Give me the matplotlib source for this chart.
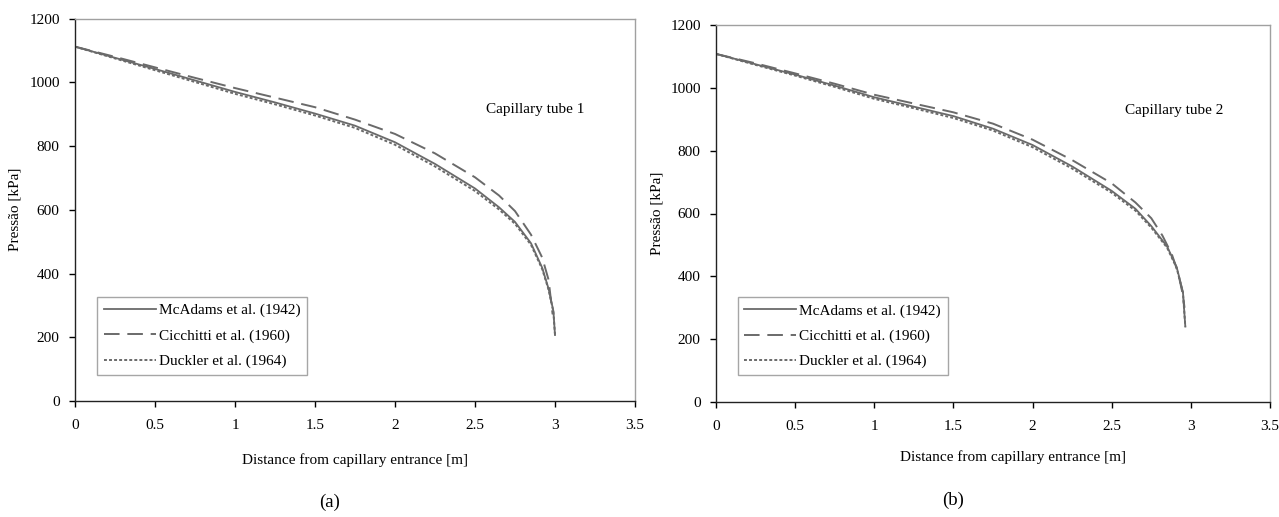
import matplotlib
matplotlib.use("Agg")
import matplotlib.pyplot as plt

plt.rcParams['font.family'] = ['Liberation Serif', 'DejaVu Serif']

# ---------------- data ----------------
series_labels = ["McAdams et al. (1942)", "Cicchitti et al. (1960)", "Duckler et al. (1964)"]
panel_titles = ["Capillary tube 1", "Capillary tube 2"]
panel_tags = ["(a)", "(b)"]
x_ticks = [0, 0.5, 1, 1.5, 2, 2.5, 3, 3.5]
x_tick_labels = ["0", "0.5", "1", "1.5", "2", "2.5", "3", "3.5"]
y_ticks = [0, 200, 400, 600, 800, 1000, 1200]

# Panel (a)
a_mcadams_x = [0, 0.25, 0.5, 0.75, 1.0, 1.25, 1.5, 1.75, 2.0, 2.25, 2.5, 2.65, 2.75, 2.85, 2.92, 2.96, 2.99, 3.0]
a_mcadams_y = [1112, 1077, 1042, 1006, 970, 937, 902, 864, 812, 744, 667, 608, 562, 495, 418, 352, 282, 207]
a_cicchitti_x = [0, 0.25, 0.5, 0.75, 1.0, 1.25, 1.5, 1.75, 2.0, 2.25, 2.5, 2.65, 2.75, 2.85, 2.92, 2.96, 2.985]
a_cicchitti_y = [1112, 1080, 1047, 1014, 982, 952, 922, 883, 838, 777, 702, 645, 596, 522, 450, 380, 272]
a_duckler_x = [0, 0.25, 0.5, 0.75, 1.0, 1.25, 1.5, 1.75, 2.0, 2.25, 2.5, 2.65, 2.75, 2.85, 2.92, 2.96, 2.99, 3.0]
a_duckler_y = [1112, 1075, 1038, 1001, 964, 931, 896, 857, 804, 736, 659, 601, 556, 490, 414, 349, 280, 207]

# Panel (b)
b_mcadams_x = [0, 0.25, 0.5, 0.75, 1.0, 1.25, 1.5, 1.75, 2.0, 2.25, 2.5, 2.65, 2.75, 2.85, 2.91, 2.95, 2.965]
b_mcadams_y = [1108, 1075, 1042, 1007, 970, 940, 910, 870, 818, 750, 672, 615, 560, 495, 430, 350, 240]
b_cicchitti_x = [0, 0.25, 0.5, 0.75, 1.0, 1.25, 1.5, 1.75, 2.0, 2.25, 2.5, 2.65, 2.75, 2.82, 2.88, 2.92, 2.95, 2.96]
b_cicchitti_y = [1108, 1078, 1046, 1013, 978, 950, 922, 886, 835, 770, 696, 635, 585, 530, 470, 410, 340, 300]
b_duckler_x = [0, 0.25, 0.5, 0.75, 1.0, 1.25, 1.5, 1.75, 2.0, 2.25, 2.5, 2.65, 2.75, 2.85, 2.91, 2.95, 2.965]
b_duckler_y = [1108, 1073, 1039, 1003, 965, 935, 904, 864, 811, 743, 666, 609, 555, 491, 427, 348, 240]

# ---------------- figure ----------------
fig = plt.figure(figsize=(12.79, 5.17), dpi=100)
W, H = 1279, 517

def axes_px(x0, x1, ytop, ybot):
    return fig.add_axes([x0 / W, (H - ybot) / H, (x1 - x0) / W, (ybot - ytop) / H])

ax_a = axes_px(75, 635, 18.6, 401)
ax_b = axes_px(716, 1270, 25, 402)

line_color = '#6a6a6a'
styles = [dict(linestyle='-', lw=1.3),
          dict(linestyle=(0, (8, 4)), lw=1.4),
          dict(linestyle=(0, (1.5, 1.1)), lw=1.4)]

panels = [
    (ax_a, [(a_mcadams_x, a_mcadams_y), (a_cicchitti_x, a_cicchitti_y), (a_duckler_x, a_duckler_y)],
     (2.569, 914), (0.5, -0.154), (0.0388, 0.068)),
    (ax_b, [(b_mcadams_x, b_mcadams_y), (b_cicchitti_x, b_cicchitti_y), (b_duckler_x, b_duckler_y)],
     (2.587, 929), (0.537, -0.146), (0.039, 0.071)),
]

fs = 11
for i, (ax, data, tpos, xlab_pos, leg_pos) in enumerate(panels):
    for (xs, ys), lab, st in zip(data, series_labels, styles):
        ax.plot(xs, ys, color=line_color, label=lab, **st)
    ax.set_xlim(0, 3.5)
    ax.set_ylim(0, 1200)
    ax.set_xticks(x_ticks)
    ax.set_xticklabels(x_tick_labels)
    ax.set_yticks(y_ticks)
    ax.tick_params(axis='both', direction='out', length=4, width=1, labelsize=fs, colors='black')
    ax.tick_params(axis='x', pad=9)
    ax.tick_params(axis='y', pad=7)
    for s in ['left', 'bottom']:
        ax.spines[s].set_color('#222222')
        ax.spines[s].set_linewidth(1.0)
    for s in ['top', 'right']:
        ax.spines[s].set_color('#a0a0a0')
        ax.spines[s].set_linewidth(1.0)
    ax.set_xlabel("Distance from capillary entrance [m]", fontsize=fs)
    ax.xaxis.set_label_coords(*xlab_pos)
    ax.xaxis.label.set_va('center')
    ax.set_ylabel("Pressão [kPa]", fontsize=fs)
    ax.yaxis.set_label_coords(-0.107, 0.5)
    ax.yaxis.label.set_va('center')
    ax.text(tpos[0], tpos[1], panel_titles[i], fontsize=fs, ha='left', va='center')
    leg = ax.legend(loc='lower left', bbox_to_anchor=leg_pos, borderaxespad=0,
                    fontsize=11, frameon=True, fancybox=False, edgecolor='#909090',
                    handlelength=3.4, handletextpad=0.2, labelspacing=0.75,
                    borderpad=0.45)
    leg.get_frame().set_linewidth(1.0)

fig.text(330 / W, 1 - 502 / H, panel_tags[0], fontsize=13.5, ha='center', va='center')
fig.text(953 / W, 1 - 500 / H, panel_tags[1], fontsize=13.5, ha='center', va='center')

fig.savefig("out.png", dpi=100, facecolor='white')
